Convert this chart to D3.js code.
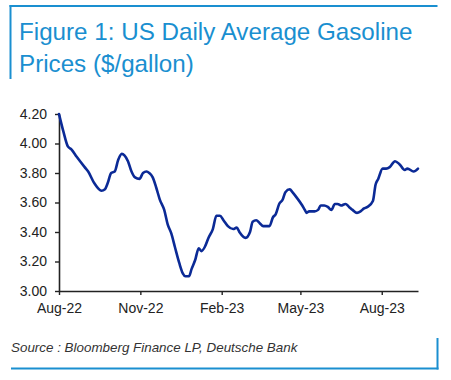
<!DOCTYPE html>
<html>
<head>
<meta charset="utf-8">
<script src="https://cdn.jsdelivr.net/npm/d3@7"></script>
<style>
  html, body { margin: 0; padding: 0; background: #fff; }
  svg { display: block; }
</style>
</head>
<body>
<svg id="chart" width="451" height="380"></svg>
<script>
const titleLines = ["Figure 1: US Daily Average Gasoline", "Prices ($/gallon)"];
const sourceText = "Source : Bloomberg Finance LP, Deutsche Bank";

const dates = [
  "2022-08-01","2022-08-06","2022-08-11","2022-08-15","2022-08-21","2022-08-30","2022-09-03","2022-09-10",
  "2022-09-18","2022-09-22","2022-09-25","2022-09-29","2022-10-03","2022-10-07","2022-10-11","2022-10-14",
  "2022-10-18","2022-10-22","2022-10-26","2022-10-31","2022-11-04","2022-11-08","2022-11-11","2022-11-15",
  "2022-11-19","2022-11-23","2022-11-28","2022-12-02","2022-12-06","2022-12-10","2022-12-15","2022-12-19",
  "2022-12-22","2022-12-26","2022-12-29","2023-01-02","2023-01-06","2023-01-09","2023-01-13","2023-01-17",
  "2023-01-22","2023-01-26","2023-01-30","2023-02-03","2023-02-08","2023-02-14","2023-02-18","2023-02-21",
  "2023-02-28","2023-03-05","2023-03-08","2023-03-12","2023-03-16","2023-03-20","2023-03-27","2023-03-31",
  "2023-04-03","2023-04-07","2023-04-11","2023-04-14","2023-04-19","2023-04-22","2023-04-26","2023-05-02",
  "2023-05-06","2023-05-08","2023-05-11","2023-05-17","2023-05-21","2023-05-24","2023-05-28","2023-06-01",
  "2023-06-05","2023-06-09","2023-06-12","2023-06-16","2023-06-21","2023-06-25","2023-06-29","2023-07-04",
  "2023-07-08","2023-07-12","2023-07-16","2023-07-22","2023-07-25","2023-07-28","2023-08-02","2023-08-06",
  "2023-08-10","2023-08-16","2023-08-21","2023-08-27","2023-08-30","2023-09-06","2023-09-11"
];
const prices = [
  4.20,4.08,3.98,3.96,3.91,3.84,3.81,3.73,
  3.68,3.69,3.73,3.80,3.81,3.89,3.93,3.92,
  3.88,3.81,3.77,3.76,3.80,3.81,3.80,3.77,
  3.70,3.62,3.55,3.45,3.39,3.30,3.19,3.12,
  3.10,3.10,3.15,3.21,3.29,3.27,3.30,3.36,
  3.42,3.51,3.51,3.48,3.44,3.42,3.43,3.40,
  3.36,3.40,3.47,3.48,3.46,3.44,3.44,3.50,
  3.52,3.59,3.62,3.67,3.69,3.67,3.64,3.59,
  3.55,3.53,3.54,3.54,3.55,3.58,3.58,3.57,
  3.55,3.59,3.59,3.58,3.59,3.57,3.55,3.53,
  3.54,3.56,3.57,3.61,3.72,3.76,3.83,3.83,
  3.84,3.88,3.86,3.82,3.83,3.81,3.83
];
const yTicks = [3.00, 3.20, 3.40, 3.60, 3.80, 4.00, 4.20];
const xTickDates = ["2022-08-01","2022-11-01","2023-02-01","2023-05-01","2023-08-01"];
const xDomain = ["2022-08-01","2023-09-11"];

const parse = d3.utcParse("%Y-%m-%d");
const data = dates.map((d, i) => ({ date: parse(d), value: prices[i] }));

const svg = d3.select("#chart");
const blue = "#1a8fd0";

// frame lines
svg.append("line").attr("x1", 9.5).attr("x2", 437.5).attr("y1", 6).attr("y2", 6)
  .attr("stroke", blue).attr("stroke-width", 2);
svg.append("line").attr("x1", 10.5).attr("x2", 10.5).attr("y1", 5).attr("y2", 79)
  .attr("stroke", blue).attr("stroke-width", 2);
svg.append("line").attr("x1", 11).attr("x2", 438.5).attr("y1", 368.5).attr("y2", 368.5)
  .attr("stroke", blue).attr("stroke-width", 2);
svg.append("line").attr("x1", 437.5).attr("x2", 437.5).attr("y1", 338).attr("y2", 369.5)
  .attr("stroke", blue).attr("stroke-width", 2);

// title
svg.selectAll("text.title").data(titleLines).enter().append("text")
  .attr("class", "title")
  .attr("x", 19).attr("y", (d, i) => 40 + i * 32)
  .attr("fill", blue)
  .style("font-family", "'Liberation Sans', Arial, sans-serif")
  .style("font-size", "24.2px")
  .text(d => d);

// source
svg.append("text").attr("x", 11).attr("y", 352)
  .attr("fill", "#333")
  .style("font-family", "'Liberation Sans', Arial, sans-serif")
  .style("font-size", "13.4px").style("font-style", "italic")
  .text(sourceText);

const x = d3.scaleUtc().domain(xDomain.map(parse)).range([59, 418]);
const y = d3.scaleLinear().domain([3.0, 4.2]).range([291, 114]);

const fmtX = d3.utcFormat("%b-%y");

const xAxis = svg.append("g").attr("transform", "translate(0,291)")
  .call(d3.axisBottom(x).tickValues(xTickDates.map(parse)).tickFormat(fmtX).tickSizeInner(4).tickSizeOuter(0).tickPadding(8));
const yAxis = svg.append("g").attr("transform", "translate(59,0)")
  .call(d3.axisLeft(y).tickValues(yTicks).tickFormat(d3.format(".2f")).tickSizeInner(4).tickSizeOuter(0).tickPadding(8));

[xAxis, yAxis].forEach(g => {
  g.select(".domain").attr("stroke", "#222").attr("stroke-width", 1.6);
  g.selectAll(".tick line").attr("stroke", "#222").attr("stroke-width", 1.4);
  g.selectAll(".tick text").attr("fill", "#222")
    .style("font-family", "'Liberation Sans', Arial, sans-serif").style("font-size", "14px");
});

const line = d3.line().x(d => x(d.date)).y(d => y(d.value)).curve(d3.curveMonotoneX);
svg.append("path").datum(data).attr("d", line)
  .attr("fill", "none").attr("stroke", "#0b2a96").attr("stroke-width", 2.6)
  .attr("stroke-linejoin", "round").attr("stroke-linecap", "round");
</script>
</body>
</html>
